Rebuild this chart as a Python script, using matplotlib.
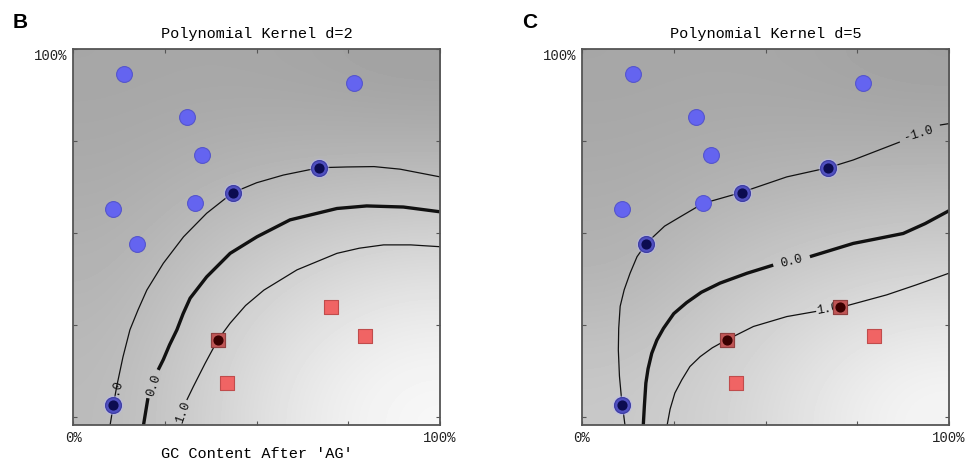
import numpy as np
import matplotlib.pyplot as plt

plt.rcParams['font.family'] = ['Liberation Mono', 'DejaVu Sans Mono']

# training points (same in both panels), in percent
blue_x = [13.8, 76.6, 31.0, 35.1, 67.1, 43.5, 33.1, 10.9, 17.5, 11.0]
blue_y = [93.1, 90.7, 81.5, 71.1, 67.6, 60.9, 58.0, 56.4, 46.9, 3.1]
red_x = [70.2, 79.5, 39.4, 41.9]
red_y = [29.7, 22.0, 20.8, 9.0]

# support vectors (indices into the lists above)
b_sv_blue = [4, 5, 9]
b_sv_red = [2]
c_sv_blue = [4, 5, 8, 9]
c_sv_red = [0, 2]

# contour lines (None = gap for the label)
b_neg = [(100, 65.2), (89.1, 67.3), (82.0, 68.0), (74.6, 67.9), (67.1, 67.7), (57.3, 65.7),
         (50.0, 63.6), (43.5, 60.9), (36.4, 55.3), (30.1, 48.9), (24.6, 41.7), (20.1, 34.4),
         (17.7, 29.0), (15.5, 23.6), (13.6, 16.2), (11.9, 8.2), (11.0, 3.2), (10.1, -2.3)]
b_zero = [(100, 55.7), (90.0, 57.0), (80.0, 57.3), (71.9, 56.6), (59.1, 53.5), (50.1, 48.9),
          (42.8, 44.4), (36.4, 38.0), (31.9, 32.2), (30.0, 28.0), (28.3, 23.6), (26.3, 19.5),
          (24.6, 15.5), (23.2, 12.7), (None, None), (20.4, 5.0), (19.2, -2.3)]
b_pos = [(100, 46.2), (92.0, 46.7), (84.6, 46.7), (78.0, 45.8), (71.9, 44.4), (61.0, 39.9),
         (52.0, 34.4), (47.0, 30.2), (42.8, 25.4), (39.4, 20.8), (36.0, 14.5), (32.8, 8.2),
         (31.0, 4.5)]

c_neg = [(100, 79.7), (97.5, 79.3), (None, None), (86.6, 74.7), (73.9, 69.8), (67.1, 67.7),
         (55.8, 65.2), (46.7, 62.1), (43.2, 60.9), (37.6, 59.3), (33.0, 58.0), (26.7, 54.3),
         (22.5, 51.8), (19.4, 48.9), (17.4, 46.9), (15.0, 43.5), (13.1, 39.0), (11.5, 34.5),
         (10.4, 30.0), (10.0, 24.0), (9.9, 18.1), (10.2, 11.0), (10.8, 4.5), (11.0, 3.2),
         (11.7, -2.3)]
c_zero = [(100, 56.0), (93.5, 52.5), (87.5, 49.8), (80.0, 48.3), (73.9, 47.1), (62.1, 43.5),
          (None, None), (52.1, 41.2), (45.0, 39.0), (37.6, 36.3), (32.5, 33.8), (28.5, 31.0),
          (25.0, 28.0), (22.2, 24.0), (20.4, 20.8), (19.0, 17.2), (18.0, 13.0), (17.4, 9.1),
          (17.0, 3.0), (16.7, -2.3)]
c_pos = [(100, 39.0), (91.0, 35.8), (83.0, 33.1), (70.1, 29.6), (None, None), (63.8, 28.6),
         (55.8, 27.2), (46.7, 24.5), (39.3, 20.8), (35.5, 18.7), (32.2, 16.3), (29.4, 13.6),
         (27.2, 10.0), (25.3, 6.4), (24.0, 2.0), (23.2, -2.3)]

# contour labels: text, x, y, angle
b_labels = [('-1.0', 11.4, 5.9, 75), ('0.0', 21.9, 8.6, 72), ('1.0', 30.1, 1.0, 70)]
c_labels = [('-1.0', 91.8, 77.0, 17), ('0.0', 57.1, 42.3, 14), ('1.0', 67.0, 29.1, 10)]

# background grey level, rows from y=100% down to 0%, cols from x=0% to 100%
b_shade = [[166, 167, 165, 161],
           [172, 181, 188, 192],
           [180, 199, 215, 226],
           [186, 210, 234, 248]]
c_shade = [[166, 167, 165, 161],
           [172, 178, 183, 187],
           [180, 197, 208, 215],
           [200, 210, 229, 246]]

YMIN = -2.3


def draw_panel(ax, title, shade, curves, labels, sv_blue, sv_red):
    ax.imshow(np.array(shade, dtype=float), cmap='gray', vmin=0, vmax=255,
              extent=[0, 100, YMIN, 100], interpolation='bicubic', aspect='auto', zorder=0)
    for pts, lw in curves:
        arr = np.array(pts, dtype=float)
        ax.plot(arr[:, 0], arr[:, 1], color='#111111', lw=lw, zorder=2,
                solid_joinstyle='round', solid_capstyle='butt')
    for txt, x, y, ang in labels:
        ax.text(x, y, txt, rotation=ang, fontsize=9, ha='center', va='center',
                color='#111111', zorder=3)

    ax.scatter(blue_x, blue_y, s=130, marker='o', color='#6464f0',
               edgecolors='#5555cc', linewidths=0.8, zorder=4)
    ax.scatter(red_x, red_y, s=115, marker='s', color='#f06464',
               edgecolors='#c04c4c', linewidths=0.8, zorder=4)
    bx = [blue_x[i] for i in sv_blue]
    by = [blue_y[i] for i in sv_blue]
    rx = [red_x[i] for i in sv_red]
    ry = [red_y[i] for i in sv_red]
    ax.scatter(bx, by, s=200, marker='o', color='#b8b8ee', alpha=0.5, linewidths=0, zorder=4)
    ax.scatter(bx, by, s=130, marker='o', color='#5050c0', edgecolors='#3c3ca0',
               linewidths=0.8, zorder=5)
    ax.scatter(bx, by, s=40, marker='o', color='#0c0c50', zorder=6)
    ax.scatter(rx, ry, s=115, marker='s', color='#c05656', edgecolors='#904040',
               linewidths=0.8, zorder=5)
    ax.scatter(rx, ry, s=40, marker='o', color='#3a0000', zorder=6)

    ax.set_xlim(0, 100)
    ax.set_ylim(YMIN, 100)
    ax.set_xticks([0, 25, 50, 75, 100])
    ax.set_xticklabels(['0%', '', '', '', '100%'])
    ax.set_yticks([0, 25, 50, 75, 100])
    ax.set_yticklabels(['', '', '', '', '100%'])
    ax.tick_params(direction='in', length=3, width=0.8, color='#555555',
                   top=True, right=True, labelsize=10, pad=4, labelcolor='#222222')
    for lab in ax.get_yticklabels():
        lab.set_verticalalignment('top')
    for sp in ax.spines.values():
        sp.set_color('#555555')
        sp.set_linewidth(1.3)
    ax.set_title(title, fontsize=11, pad=8)


fig = plt.figure(figsize=(9.7, 4.62), dpi=100)
ax_b = fig.add_axes([0.0753, 0.0801, 0.3784, 0.8139])
ax_c = fig.add_axes([0.6, 0.0801, 0.3784, 0.8139])

draw_panel(ax_b, 'Polynomial Kernel d=2', b_shade,
           [(b_neg, 0.9), (b_zero, 2.4), (b_pos, 0.9)], b_labels, b_sv_blue, b_sv_red)
draw_panel(ax_c, 'Polynomial Kernel d=5', c_shade,
           [(c_neg, 0.9), (c_zero, 2.4), (c_pos, 0.9)], c_labels, c_sv_blue, c_sv_red)

ax_b.set_xlabel("GC Content After 'AG'", fontsize=11, labelpad=2)

fig.text(0.013, 0.951, 'B', fontsize=15, fontweight='bold', family='Liberation Sans',
         va='center')
fig.text(0.538, 0.951, 'C', fontsize=15, fontweight='bold', family='Liberation Sans',
         va='center')

fig.savefig('out.png', dpi=100)
